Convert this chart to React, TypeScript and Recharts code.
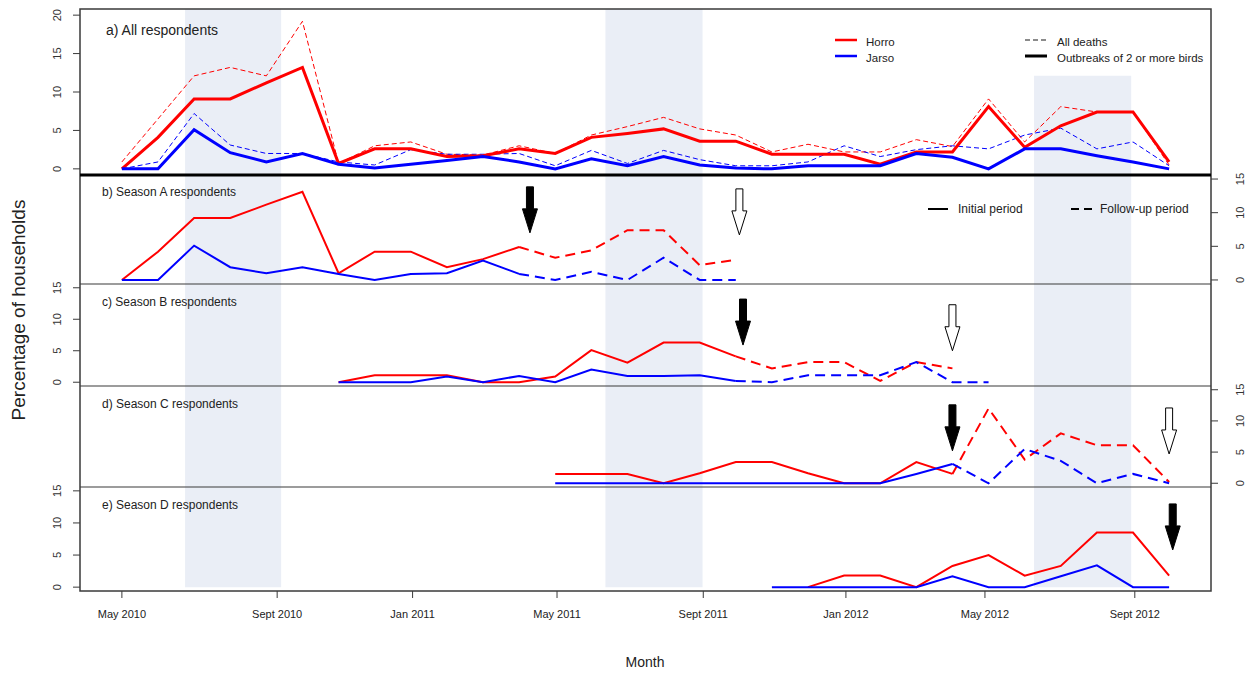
import React from 'react'
import {
  LineChart,
  Line,
  XAxis,
  YAxis,
  ReferenceArea,
  ReferenceDot,
} from 'recharts'

// months are indexed 0 (May 2010) .. 29 (Oct 2012)
const N_MONTHS = 30
const X_DOMAIN: [number, number] = [-1.16, 30.16]

const tickPos = [0, 4.3, 8.05, 12.05, 16.1, 20.05, 23.9, 28.05]
const tickLabels = [
  'May 2010',
  'Sept 2010',
  'Jan 2011',
  'May 2011',
  'Sept 2011',
  'Jan 2012',
  'May 2012',
  'Sept 2012',
]

// rainy season shading (month index)
const shadeFrom = [1.75, 13.39, 25.26]
const shadeTo = [4.41, 16.08, 27.95]

// a) all respondents
const horroOutbreaks = [0, 4.1, 9.1, 9.1, 11.2, 13.2, 0.7, 2.6, 2.6, 1.6, 1.7, 2.6, 2.0, 4.1, 4.6, 5.2, 3.6, 3.6, 1.9, 1.9, 1.9, 0.6, 2.2, 2.2, 8.1, 2.8, 5.6, 7.4, 7.4, 0.9]
const horroAllDeaths = [0.9, 6.5, 12.1, 13.2, 12.1, 19.2, 0.7, 3.0, 3.5, 1.9, 1.8, 3.0, 2.0, 4.4, 5.5, 6.7, 5.2, 4.4, 2.2, 3.2, 2.2, 2.2, 3.8, 2.9, 9.1, 3.5, 8.1, 7.4, 7.4, 0.5]
const jarsoOutbreaks = [0, 0, 5.1, 2.1, 0.9, 2.0, 0.6, 0.1, 0.6, 1.1, 1.6, 0.9, 0, 1.3, 0.4, 1.6, 0.5, 0.1, 0, 0.4, 0.4, 0.4, 2.0, 1.5, 0, 2.6, 2.6, 1.7, 0.9, 0]
const jarsoAllDeaths = [0, 0.9, 7.2, 3.1, 2.0, 2.0, 0.9, 0.5, 2.5, 1.9, 1.9, 2.0, 0.4, 2.4, 0.7, 2.4, 1.2, 0.4, 0.4, 0.9, 3.0, 1.6, 2.5, 3.0, 2.6, 4.4, 5.3, 2.6, 3.5, 0.4]

// b) season A (initial from month 0, follow-up from month 11)
const horroAInit = [0, 4.2, 9.2, 9.2, 11.2, 13.1, 1.0, 4.2, 4.2, 1.9, 3.1, 4.9]
const horroAFollow = [4.9, 3.3, 4.4, 7.4, 7.4, 2.2, 3.0]
const jarsoAInit = [0, 0, 5.1, 1.9, 1.0, 1.9, 0.9, 0, 0.9, 1.0, 2.9, 0.9]
const jarsoAFollow = [0.9, 0, 1.2, 0, 3.3, 0, 0]

// c) season B (initial from month 6, follow-up from month 17)
const horroBInit = [0, 1.1, 1.1, 1.1, 0, 0, 0.9, 5.1, 3.1, 6.3, 6.3, 4.1]
const horroBFollow = [4.1, 2.2, 3.2, 3.2, 0.2, 3.2, 2.2]
const jarsoBInit = [0, 0, 0, 0.9, 0, 1.0, 0, 2.0, 1.0, 1.0, 1.1, 0.2]
const jarsoBFollow = [0.2, 0, 1.1, 1.1, 1.1, 3.2, 0, 0]

// d) season C (initial from month 12, follow-up from month 23)
const horroCInit = [1.5, 1.5, 1.5, 0, 1.6, 3.4, 3.4, 1.6, 0, 0, 3.4, 1.5]
const horroCFollow = [1.5, 12.0, 3.8, 8.0, 6.1, 6.1, 0.2]
const jarsoCInit = [0, 0, 0, 0, 0, 0, 0, 0, 0, 0, 1.5, 3.1]
const jarsoCFollow = [3.1, 0, 5.5, 3.6, 0, 1.5, 0]

// e) season D (horro from month 19, jarso from month 18)
const horroD = [0, 1.8, 1.8, 0, 3.3, 5.0, 1.8, 3.3, 8.5, 8.5, 1.8]
const jarsoD = [0, 0, 0, 0, 0, 1.7, 0, 0, 1.7, 3.4, 0, 0]

// arrows: month index, value of the tip
const startArrows = [
  { panel: 'b', x: 11.3, y: 7.0 },
  { panel: 'c', x: 17.2, y: 5.9 },
  { panel: 'd', x: 23.0, y: 5.2 },
  { panel: 'e', x: 29.1, y: 5.8 },
]
const endArrows = [
  { panel: 'b', x: 17.1, y: 6.7 },
  { panel: 'c', x: 23.0, y: 5.0 },
  { panel: 'd', x: 29.0, y: 4.7 },
]

const place = (vals: number[], start: number) => {
  const out: (number | null)[] = []
  for (let i = 0; i < N_MONTHS; i++) {
    const k = i - start
    out.push(k >= 0 && k < vals.length ? vals[k] : null)
  }
  return out
}

const series: { [key: string]: (number | null)[] } = {
  hO: horroOutbreaks,
  hA: horroAllDeaths,
  jO: jarsoOutbreaks,
  jA: jarsoAllDeaths,
  hAi: place(horroAInit, 0),
  hAf: place(horroAFollow, 11),
  jAi: place(jarsoAInit, 0),
  jAf: place(jarsoAFollow, 11),
  hBi: place(horroBInit, 6),
  hBf: place(horroBFollow, 17),
  jBi: place(jarsoBInit, 6),
  jBf: place(jarsoBFollow, 17),
  hCi: place(horroCInit, 12),
  hCf: place(horroCFollow, 23),
  jCi: place(jarsoCInit, 12),
  jCf: place(jarsoCFollow, 23),
  hD: place(horroD, 19),
  jD: place(jarsoD, 18),
}

const rows = Array.from({ length: N_MONTHS }, (_, i) => {
  const r: { [key: string]: number | null } = { x: i }
  Object.keys(series).forEach((k) => {
    r[k] = series[k][i]
  })
  return r
})

const FONT = "'Liberation Sans', Arial, sans-serif"
const RED = '#ff0000'
const BLUE = '#0000ff'
const SHADE = '#eaeef6'
const FRAME = '#3a3a3a'
const DASH = '10 6'

const LeftTick = (props: any) => {
  const { x, y, payload } = props
  const bx = x - 10
  return (
    <text x={bx} y={y} transform={`rotate(-90 ${bx} ${y})`} textAnchor="middle" fontSize={11} fontFamily={FONT} fill="#333">
      {payload.value}
    </text>
  )
}

const RightTick = (props: any) => {
  const { x, y, payload } = props
  const bx = x + 24
  return (
    <text x={bx} y={y} transform={`rotate(-90 ${bx} ${y})`} textAnchor="middle" fontSize={11} fontFamily={FONT} fill="#333">
      {payload.value}
    </text>
  )
}

const arrowShape = (filled: boolean) => (props: any) => {
  const { cx, cy } = props
  const pts = [
    [cx, cy],
    [cx - 7.5, cy - 24],
    [cx - 3.5, cy - 24],
    [cx - 3.5, cy - 46],
    [cx + 3.5, cy - 46],
    [cx + 3.5, cy - 24],
    [cx + 7.5, cy - 24],
  ]
    .map((p) => p.join(','))
    .join(' ')
  return <polygon points={pts} fill={filled ? '#000' : '#fff'} stroke="#000" strokeWidth={1} />
}

type PanelProps = {
  id: string
  top: number
  height: number
  domain: [number, number]
  side: 'left' | 'right'
  yTicks: number[]
  shadeTop?: (number | undefined)[]
  shadeBottom?: number
  showX?: boolean
  children: React.ReactNode
}

function Panel({ id, top, height, domain, side, yTicks, shadeTop, shadeBottom, showX, children }: PanelProps) {
  const xh = showX ? 45 : 0
  return (
    <div style={{ position: 'absolute', left: 0, top, width: 1255, height: height + xh }}>
      <LineChart
        width={1255}
        height={height + xh}
        data={rows}
        margin={{ top: 0, bottom: 0, left: side === 'left' ? 40 : 80, right: side === 'right' ? 4 : 44 }}
      >
        <XAxis
          dataKey="x"
          type="number"
          domain={X_DOMAIN}
          allowDataOverflow
          hide={!showX}
          ticks={tickPos}
          interval={0}
          height={xh}
          tickSize={7}
          tickMargin={12}
          axisLine={false}
          tickLine={{ stroke: FRAME }}
          tick={{ fontSize: 11, fontFamily: FONT, fill: '#222' }}
          tickFormatter={(v: number) => tickLabels[tickPos.indexOf(v)] ?? ''}
        />
        <YAxis
          type="number"
          orientation={side}
          width={40}
          domain={domain}
          allowDataOverflow
          ticks={yTicks}
          interval={0}
          tickSize={7}
          axisLine={false}
          tickLine={{ stroke: FRAME }}
          tick={side === 'left' ? <LeftTick /> : <RightTick />}
        />
        {shadeFrom.map((s, i) => (
          <ReferenceArea
            key={'shade' + i}
            x1={s}
            x2={shadeTo[i]}
            y1={shadeBottom ?? domain[0]}
            y2={shadeTop?.[i] ?? domain[1]}
            fill={SHADE}
            fillOpacity={1}
            stroke="none"
          />
        ))}
        {children}
        {startArrows
          .filter((a) => a.panel === id)
          .map((a, i) => (
            <ReferenceDot key={'sa' + i} x={a.x} y={a.y} r={1} shape={arrowShape(true)} />
          ))}
        {endArrows
          .filter((a) => a.panel === id)
          .map((a, i) => (
            <ReferenceDot key={'ea' + i} x={a.x} y={a.y} r={1} shape={arrowShape(false)} />
          ))}
      </LineChart>
    </div>
  )
}

const line = (key: string, color: string, width: number, dashed = false) => (
  <Line
    key={key}
    dataKey={key}
    stroke={color}
    strokeWidth={width}
    strokeDasharray={dashed ? (width > 1.5 ? DASH : '5 3') : undefined}
    dot={false}
    activeDot={false}
    connectNulls={false}
    isAnimationActive={false}
  />
)

const txt = (x: number, y: number, s: string, size = 12, extra: any = {}) => (
  <text x={x} y={y} fontSize={size} fontFamily={FONT} fill="#222" {...extra}>
    {s}
  </text>
)

export default function App() {
  return (
    <div style={{ position: 'absolute', left: 0, top: 0, width: 1255, height: 673, background: '#fff' }}>
      <style>{'.recharts-surface, .recharts-wrapper { overflow: visible !important; }'}</style>
      <Panel id="a" top={9} height={166} domain={[-0.8, 20.8]} side="left" yTicks={[0, 5, 10, 15, 20]} shadeTop={[undefined, undefined, 12.1]}>
        {line('hA', RED, 1, true)}
        {line('jA', BLUE, 1, true)}
        {line('hO', RED, 3)}
        {line('jO', BLUE, 3)}
      </Panel>
      <Panel id="b" top={175} height={109} domain={[-0.6, 15.6]} side="right" yTicks={[0, 5, 10, 15]}>
        {line('hAi', RED, 2)}
        {line('jAi', BLUE, 2)}
        {line('hAf', RED, 2, true)}
        {line('jAf', BLUE, 2, true)}
      </Panel>
      <Panel id="c" top={284} height={102} domain={[-0.6, 15.6]} side="left" yTicks={[0, 5, 10, 15]}>
        {line('hBi', RED, 2)}
        {line('jBi', BLUE, 2)}
        {line('hBf', RED, 2, true)}
        {line('jBf', BLUE, 2, true)}
      </Panel>
      <Panel id="d" top={386} height={101} domain={[-0.6, 15.6]} side="right" yTicks={[0, 5, 10, 15]}>
        {line('hCi', RED, 2)}
        {line('jCi', BLUE, 2)}
        {line('hCf', RED, 2, true)}
        {line('jCf', BLUE, 2, true)}
      </Panel>
      <Panel id="e" top={487} height={104} domain={[-0.6, 15.6]} side="left" yTicks={[0, 5, 10, 15]} shadeBottom={0} showX>
        {line('hD', RED, 2)}
        {line('jD', BLUE, 2)}
      </Panel>

      <svg width={1255} height={673} style={{ position: 'absolute', left: 0, top: 0, pointerEvents: 'none' }}>
        {/* frame */}
        <rect x={80} y={9} width={1131} height={582} fill="none" stroke={FRAME} strokeWidth={1.5} />
        <line x1={80} x2={1211} y1={175} y2={175} stroke="#000" strokeWidth={3} />
        <line x1={80} x2={1211} y1={284} y2={284} stroke={FRAME} strokeWidth={1.2} />
        <line x1={80} x2={1211} y1={386} y2={386} stroke={FRAME} strokeWidth={1.2} />
        <line x1={80} x2={1211} y1={487} y2={487} stroke={FRAME} strokeWidth={1.2} />

        {/* panel titles */}
        {txt(106, 35, 'a) All respondents', 14)}
        {txt(102, 196, 'b) Season A respondents')}
        {txt(102, 306, 'c) Season B respondents')}
        {txt(102, 408, 'd) Season C respondents')}
        {txt(102, 509, 'e) Season D respondents')}

        {/* legend, panel a */}
        <line x1={835} x2={857} y1={40} y2={40} stroke={RED} strokeWidth={2.5} />
        <line x1={835} x2={857} y1={56} y2={56} stroke={BLUE} strokeWidth={2.5} />
        {txt(866, 46, 'Horro', 11.5)}
        {txt(866, 62, 'Jarso', 11.5)}
        <line x1={1025} x2={1047} y1={40} y2={40} stroke="#666" strokeWidth={1.5} strokeDasharray="5 3" />
        <line x1={1025} x2={1047} y1={56} y2={56} stroke="#000" strokeWidth={3} />
        {txt(1057, 46, 'All deaths', 11.5)}
        {txt(1057, 62, 'Outbreaks of 2 or more birds', 11.5)}

        {/* legend, panel b */}
        <line x1={928} x2={948} y1={209} y2={209} stroke="#000" strokeWidth={2} />
        {txt(958, 213, 'Initial period')}
        <line x1={1071} x2={1093} y1={209} y2={209} stroke="#000" strokeWidth={2} strokeDasharray="8 5" />
        {txt(1100, 213, 'Follow-up period')}

        {/* axis titles */}
        {txt(645, 667, 'Month', 14, { textAnchor: 'middle' })}
        {txt(25, 310, 'Percentage of households', 19, { textAnchor: 'middle', transform: 'rotate(-90 25 310)' })}
      </svg>
    </div>
  )
}
